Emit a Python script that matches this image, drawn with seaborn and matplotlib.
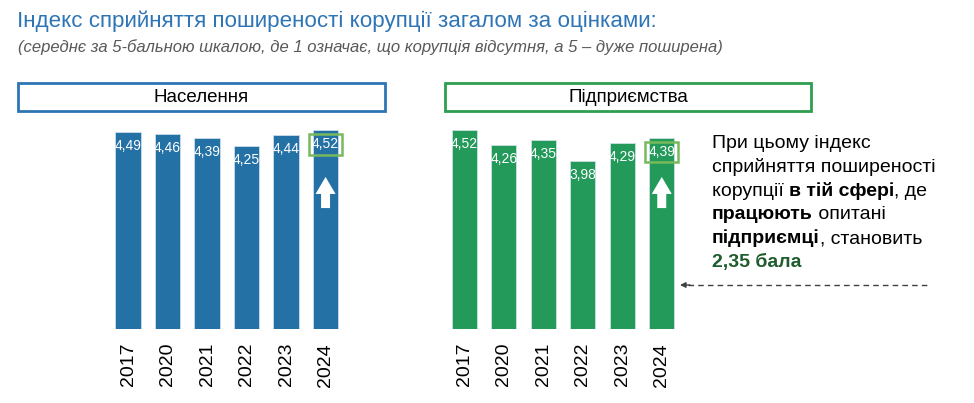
import matplotlib
matplotlib.use('Agg')
import matplotlib.pyplot as plt
import seaborn as sns
import pandas as pd
from matplotlib.patches import Rectangle
from matplotlib.transforms import blended_transform_factory

# ---- data ----
years = ['2017', '2020', '2021', '2022', '2023', '2024']
population = [4.49, 4.46, 4.39, 4.25, 4.44, 4.52]
business = [4.52, 4.26, 4.35, 3.98, 4.29, 4.39]
panel_titles = ['Населення', 'Підприємства']
title = 'Індекс сприйняття поширеності корупції загалом за оцінками:'
subtitle = '(середнє за 5-бальною шкалою, де 1 означає, що корупція відсутня, а 5 – дуже поширена)'
note_lines = [
    [('При цьому індекс', 'normal', 'black')],
    [('сприйняття поширеності', 'normal', 'black')],
    [('корупції ', 'normal', 'black'), ('в тій сфері', 'bold', 'black'), (', де', 'normal', 'black')],
    [('працюють', 'bold', 'black'), (' опитані', 'normal', 'black')],
    [('підприємці', 'bold', 'black'), (', становить', 'normal', 'black')],
    [('2,35 бала', 'bold', '#1F5C2E')],
]

sns.set_theme(style='white')
plt.rcParams['font.family'] = ['Liberation Sans', 'DejaVu Sans']

W, H = 974, 403
fig = plt.figure(figsize=(W / 100, H / 100), dpi=100)
fig.patch.set_facecolor('white')


def fx(px):
    return px / W


def fy(py):
    return 1 - py / H


ax0 = fig.add_axes([0, 0, 1, 1])
ax0.set_xlim(0, 1)
ax0.set_ylim(0, 1)
ax0.axis('off')

# title
ax0.text(fx(17), fy(21), title, fontsize=16.1, color='#2E75B6', va='center', ha='left',
         family=['Liberation Sans Narrow', 'Liberation Sans', 'DejaVu Sans'])
ax0.text(fx(18), fy(47), subtitle, fontsize=12, color='#595959', style='italic',
         va='center', ha='left')

blue = '#2471A6'
green = '#23995A'
specs = [
    (108.3, population, blue, '#2E75B6', 18, 385, panel_titles[0]),
    (444.5, business, green, '#2F9E4F', 445, 811, panel_titles[1]),
]

for left, vals, col, edge, x0, x1, ptitle in specs:
    ax = fig.add_axes([fx(left), fy(329), 237 / W, (329 - 103.4) / H])
    df = pd.DataFrame({'year': years, 'value': vals})
    sns.barplot(data=df, x='year', y='value', color=col, saturation=1, width=0.64,
                ax=ax, edgecolor='#d6e4f0', linewidth=0.5)
    ax.set_ylim(1, 5)
    ax.set_xlim(-0.5, 5.5)
    ax.set_xlabel('')
    ax.set_ylabel('')
    ax.set_yticks([])
    ax.tick_params(axis='x', length=0, pad=10, labelsize=14, rotation=90, labelcolor='black')
    sns.despine(ax=ax, left=True, bottom=True)
    ax.patch.set_alpha(0)
    for i, v in enumerate(vals):
        kw = {}
        if i == len(vals) - 1:
            kw['bbox'] = dict(boxstyle='square,pad=0.22', fc='none', ec='#78B95C', lw=1.8)
        ax.annotate(f'{v:.2f}'.replace('.', ','), xy=(i, v), xytext=(0, -14),
                    textcoords='offset pixels', ha='center', va='center',
                    color='white', fontsize=10, **kw)
    tr = blended_transform_factory(ax.transData, ax.transAxes)
    ax.annotate('', xy=(len(vals) - 1, 0.674), xycoords=tr,
                xytext=(len(vals) - 1, 0.536), textcoords=tr,
                arrowprops=dict(arrowstyle='simple,head_width=1.0,head_length=0.85,tail_width=0.45',
                                fc='white', ec='none', mutation_scale=14.4,
                                shrinkA=0, shrinkB=0))
    # header box
    ax0.add_patch(Rectangle((fx(x0), fy(111)), fx(x1 - x0), (111 - 83) / H,
                            fill=False, ec=edge, lw=2))
    ax0.text(fx((x0 + x1) / 2), fy(97), ptitle, ha='center', va='center', fontsize=13.5,
             color='black')

# note text with mixed weights
for k, runs in enumerate(note_lines):
    ybot = fy(148 + k * 23.8 + 4)
    prev = None
    for s, w, c in runs:
        if prev is None:
            prev = ax0.annotate(s, xy=(fx(712), ybot), xycoords='axes fraction',
                                va='bottom', ha='left', fontsize=14, weight=w, color=c)
        else:
            prev = ax0.annotate(s, xy=(1, 0), xycoords=prev, va='bottom', ha='left',
                                fontsize=14, weight=w, color=c)

# dashed pointer
ax0.plot([fx(688), fx(930)], [fy(285), fy(285)], ls=(0, (4, 3)), color='#404040', lw=1)
ax0.annotate('', xy=(fx(680), fy(285)), xytext=(fx(690), fy(285)),
             arrowprops=dict(arrowstyle='-|>', color='#404040', lw=1, mutation_scale=8,
                             shrinkA=0, shrinkB=0))

fig.savefig('out.png', dpi=100)
